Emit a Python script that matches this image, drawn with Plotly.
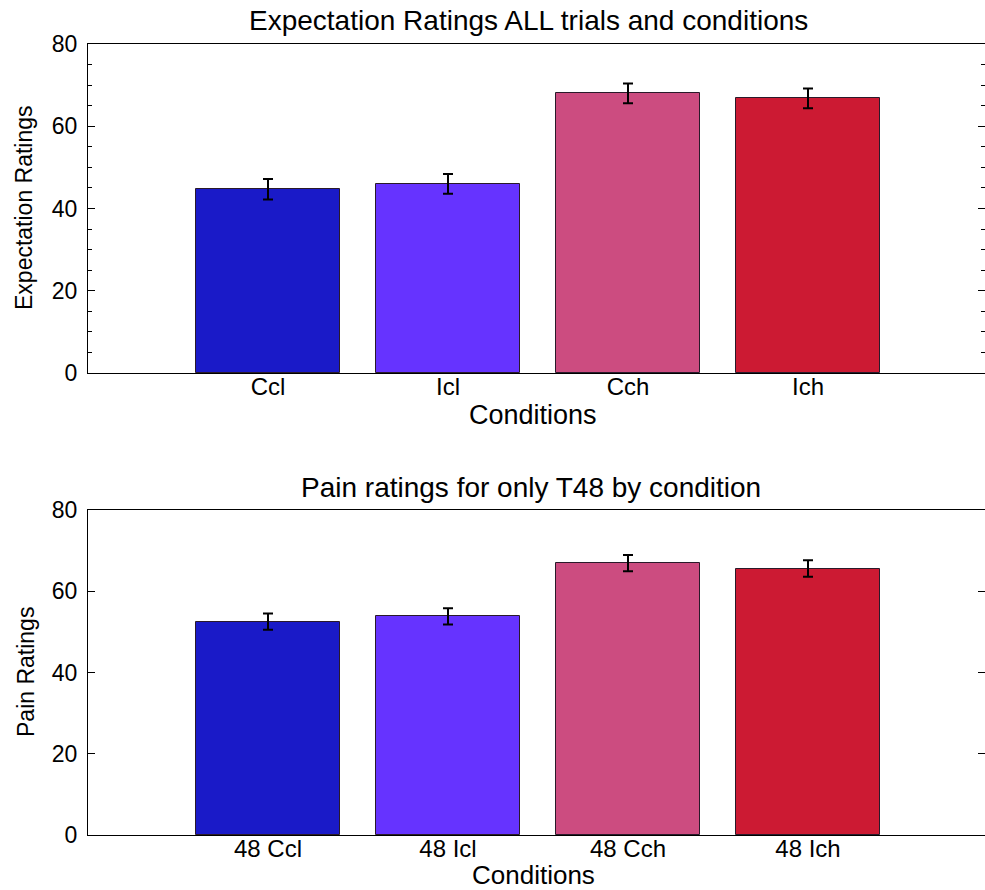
import plotly.graph_objects as go

# ---- data ----
conditions_top = ["Ccl", "Icl", "Cch", "Ich"]
conditions_bottom = ["48 Ccl", "48 Icl", "48 Cch", "48 Ich"]
positions = [1, 2, 3, 4]
expectation_means = [44.7, 46.0, 68.0, 66.8]
expectation_err = [2.5, 2.4, 2.4, 2.4]
pain_means = [52.5, 53.8, 66.9, 65.6]
pain_err = [2.0, 2.0, 2.0, 2.05]
bar_colors = ["#1a1ac8", "#6633ff", "#cc4c80", "#cc1a33"]

W, H = 985, 890
FONT = "Liberation Sans, Arial, Helvetica, sans-serif"

fig = go.Figure()

fig.add_trace(go.Bar(
    x=positions, y=expectation_means, width=0.8,
    marker=dict(color=bar_colors, line=dict(color="#2a1a2a", width=1)),
    error_y=dict(type="data", array=expectation_err, color="black", thickness=2, width=5),
    xaxis="x", yaxis="y", showlegend=False, hoverinfo="skip",
))
fig.add_trace(go.Bar(
    x=positions, y=pain_means, width=0.8,
    marker=dict(color=bar_colors, line=dict(color="#2a1a2a", width=1)),
    error_y=dict(type="data", array=pain_err, color="black", thickness=2, width=5),
    xaxis="x2", yaxis="y2", showlegend=False, hoverinfo="skip",
))

left, right = 88, 0
plot_w = W - left - right
xmax = plot_w / 180.0  # 180 px per category unit

top_dom = [1 - 373 / H, 1 - 44 / H]
bot_dom = [1 - 835 / H, 1 - 510 / H]

xcommon = dict(range=[0, xmax], showgrid=False, zeroline=False, showline=True,
               linecolor="black", linewidth=1, mirror=True, ticks="",
               tickfont=dict(family=FONT, size=24, color="black"),
               ticklabelstandoff=-8, automargin=False)
ycommon = dict(range=[0, 80], showgrid=False, zeroline=False, showline=True,
               linecolor="black", linewidth=1, mirror="ticks", ticks="inside",
               ticklen=7, tickcolor="black", tickvals=[0, 20, 40, 60, 80],
               tickfont=dict(family=FONT, size=23, color="black"),
               ticklabelstandoff=5, automargin=False)

def px_x(px):
    return (px - left) / plot_w

def px_y(py):
    return 1 - py / H

fig.update_layout(
    width=W, height=H,
    margin=dict(l=left, r=right, t=0, b=0),
    paper_bgcolor="white", plot_bgcolor="white",
    bargap=0,
    xaxis=dict(**xcommon, domain=[0, 1], anchor="y",
               tickvals=positions, ticktext=conditions_top),
    yaxis=dict(**ycommon, domain=top_dom, anchor="x",
               minor=dict(ticks="inside", ticklen=4, tickcolor="black", dtick=5, showgrid=False)),
    xaxis2=dict(**xcommon, domain=[0, 1], anchor="y2",
                tickvals=positions, ticktext=conditions_bottom),
    yaxis2=dict(**ycommon, domain=bot_dom, anchor="x2"),
    annotations=[
        dict(text="Expectation Ratings ALL trials and conditions", xref="paper", yref="paper",
             x=px_x(528), y=px_y(20), xanchor="center", yanchor="middle", showarrow=False,
             font=dict(family=FONT, size=28, color="black")),
        dict(text="Pain ratings for only T48 by condition", xref="paper", yref="paper",
             x=px_x(531), y=px_y(487), xanchor="center", yanchor="middle", showarrow=False,
             font=dict(family=FONT, size=28, color="black")),
        dict(text="Conditions", xref="paper", yref="paper",
             x=px_x(533), y=px_y(415), xanchor="center", yanchor="middle", showarrow=False,
             font=dict(family=FONT, size=27, color="black")),
        dict(text="Conditions", xref="paper", yref="paper",
             x=px_x(533), y=px_y(875), xanchor="center", yanchor="middle", showarrow=False,
             font=dict(family=FONT, size=26, color="black")),
        dict(text="Expectation Ratings", xref="paper", yref="paper",
             x=px_x(24), y=px_y(208), xanchor="center", yanchor="middle",
             showarrow=False, textangle=-90,
             font=dict(family=FONT, size=23, color="black")),
        dict(text="Pain Ratings", xref="paper", yref="paper",
             x=px_x(26), y=px_y(672), xanchor="center", yanchor="middle",
             showarrow=False, textangle=-90,
             font=dict(family=FONT, size=23, color="black")),
    ],
)

fig.write_html("out.html",
               config={"displayModeBar": False},
               post_script="document.body.style.margin='0';document.body.style.overflow='hidden';")
